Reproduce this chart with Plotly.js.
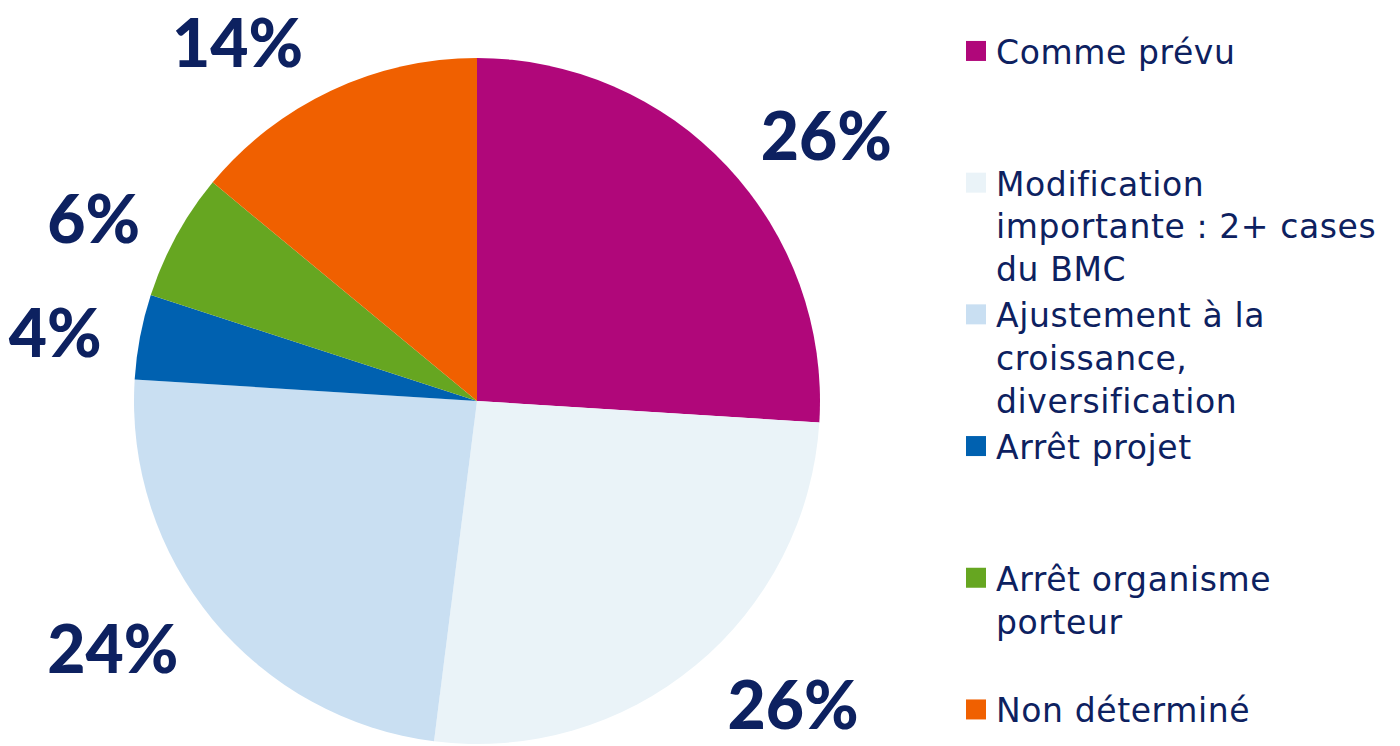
<!DOCTYPE html>
<html>
<head>
<meta charset="utf-8">
<script src="https://cdn.plot.ly/plotly-3.0.1.min.js"></script>
<style>
html,body{margin:0;padding:0;background:#fff;overflow:hidden;}
#wrap{width:1400px;height:746px;overflow:hidden;}
#chart{width:1400px;height:800px;}
.legendtext{letter-spacing:0.6px;}
</style>
</head>
<body>
<div id="wrap"><div id="chart"></div></div>
<script>
const categories = [
  "Comme prévu<br> <br> ",
  "Modification<br>importante : 2+ cases<br>du BMC",
  "Ajustement à la<br>croissance,<br>diversification",
  "Arrêt projet<br> <br> ",
  "Arrêt organisme<br>porteur<br> ",
  "Non déterminé"
];
const values = [26, 26, 24, 4, 6, 14];
const colors = ["#B0077A", "#EAF3F8", "#C9DFF2", "#0061B0", "#66A621", "#F06000"];

const navy = "#0D2160";
const H = 800;          // drawing height (page shows top 746 px)
const cx = 477, cy = 401;
const R = 343, RL = 362;
function dom(r) {
  return {
    x: [(cx - r) / 1400, (cx + r) / 1400],
    y: [(H - cy - r) / H, (H - cy + r) / H]
  };
}

const pieTrace = {
  type: "pie",
  labels: categories,
  values: values,
  sort: false,
  direction: "clockwise",
  rotation: 0,
  marker: {colors: colors, line: {width: 0}},
  textinfo: "none",
  domain: dom(R),
  hoverinfo: "label+percent"
};
const labelTrace = {
  type: "pie",
  labels: categories,
  values: values,
  sort: false,
  direction: "clockwise",
  rotation: 0,
  marker: {colors: values.map(function(){ return "rgba(0,0,0,0)"; }), line: {width: 0}},
  textinfo: "percent",
  textposition: "outside",
  outsidetextfont: {family: "Lato, 'Open Sans', sans-serif", size: 66, color: navy, weight: 900},
  showlegend: false,
  domain: dom(RL),
  hoverinfo: "skip"
};
const layout = {
  width: 1400, height: H,
  margin: {l: 0, r: 0, t: 0, b: 0},
  paper_bgcolor: "#fff",
  showlegend: true,
  legend: {
    x: 956/1400, xanchor: "left", y: 1 - 23/H, yanchor: "top",
    font: {family: "'DejaVu Sans', sans-serif", size: 33, color: navy},
    valign: "top", tracegroupgap: 0, itemclick: false
  }
};
Plotly.newPlot("chart", [pieTrace, labelTrace], layout, {displayModeBar: false, staticPlot: true}).then(function(){
  document.querySelectorAll(".legendpie").forEach(function(p){ p.setAttribute("d", "M10,10H-10V-10H10Z"); });
});
</script>
</body>
</html>
